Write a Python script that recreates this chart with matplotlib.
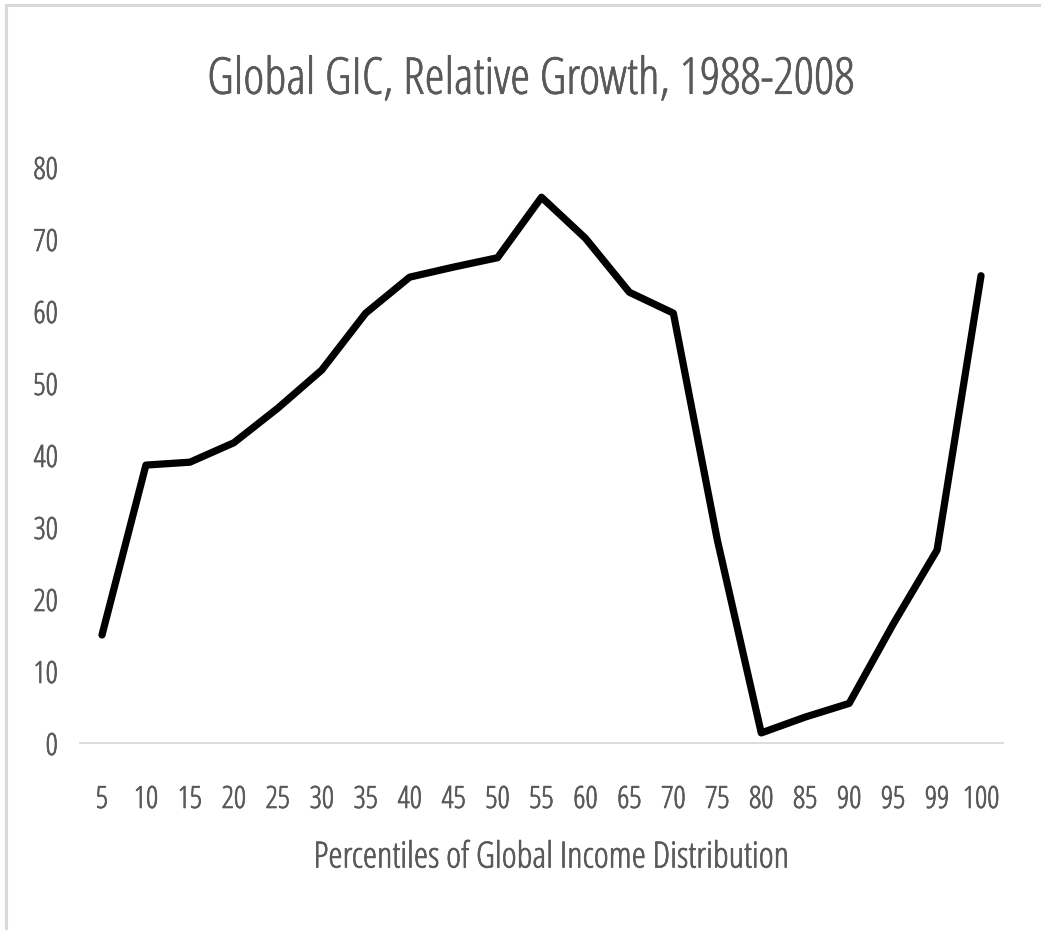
import matplotlib
matplotlib.use("Agg")
import matplotlib.pyplot as plt
from matplotlib.patches import Rectangle
from matplotlib import font_manager as fm
from matplotlib import patheffects as pe

percentiles = ["5", "10", "15", "20", "25", "30", "35", "40", "45", "50",
               "55", "60", "65", "70", "75", "80", "85", "90", "95", "99", "100"]
growth = [15.0, 38.6, 39.0, 41.7, 46.5, 51.8, 59.7, 64.7, 66.1, 67.4,
          75.8, 70.1, 62.6, 59.7, 28.2, 1.4, 3.6, 5.5, 16.5, 26.8, 64.9]
yticks = [0, 10, 20, 30, 40, 50, 60, 70, 80]

title = "Global GIC, Relative Growth, 1988-2008"
xlabel = "Percentiles of Global Income Distribution"

FP = dict(family="Open Sans", stretch="condensed", weight=300)
TXT = "#595959"
BOLDEN = [pe.withStroke(linewidth=0.5, foreground=TXT)]

W, H, DPI = 1041, 930, 100
fig = plt.figure(figsize=(W / DPI, H / DPI), dpi=DPI)
fig.patch.set_facecolor("white")

# chart border (extends past right/bottom edges)
fig.patches.append(Rectangle((6 / W, -0.1), 1.2, 1 - 5 / H + 0.1,
                             transform=fig.transFigure, fill=False,
                             edgecolor="#d9d9d9", linewidth=2.2))

ax = fig.add_axes([80 / W, 1 - 743 / H, (1003 - 80) / W, (743 - 167) / H])
n = len(percentiles)
xs = list(range(n))
ax.plot(xs, growth, color="black", linewidth=5.2, solid_joinstyle="round",
        solid_capstyle="round", clip_on=False)
ax.set_xlim(-0.5, n - 0.5)
ax.set_ylim(0, 80)
ax.set_yticks(yticks)
ax.set_yticklabels([str(v) for v in yticks])
ax.set_xticks(xs)
ax.set_xticklabels(percentiles)
for s in ["top", "right", "left"]:
    ax.spines[s].set_visible(False)
ax.spines["bottom"].set_color("#d9d9d9")
ax.spines["bottom"].set_linewidth(1.3)
ax.tick_params(axis="both", length=0, labelcolor=TXT)
ax.tick_params(axis="y", pad=16)
ax.tick_params(axis="x", pad=29.5)
for lab in ax.get_xticklabels() + ax.get_yticklabels():
    lab.set_fontproperties(fm.FontProperties(size=22, **FP))
    lab.set_path_effects(BOLDEN)

fig.text(531 / W, 1 - 80 / H, title, ha="center", va="center",
         color=TXT, fontproperties=fm.FontProperties(size=36.5, **FP),
         path_effects=BOLDEN)
fig.text(551 / W, 1 - 858 / H, xlabel, ha="center", va="center",
         color=TXT, fontproperties=fm.FontProperties(size=26, **FP),
         path_effects=BOLDEN)

fig.savefig("out.png", dpi=DPI, facecolor="white")
